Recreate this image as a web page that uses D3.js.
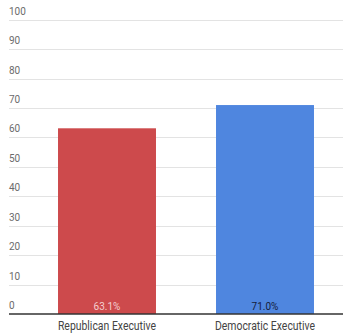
<!DOCTYPE html>
<html>
<head>
<meta charset="utf-8">
<script src="https://cdn.jsdelivr.net/npm/d3@7"></script>
<style>
  html, body { margin: 0; padding: 0; background: #fff; }
  svg { display: block; font-family: "Roboto", "Liberation Sans", sans-serif; }
</style>
</head>
<body>
<svg id="chart" width="343" height="335"></svg>
<script>
const categories = ["Republican Executive", "Democratic Executive"];
const values = [63.1, 71.0];
const valueLabels = ["63.1%", "71.0%"];
const barColors = ["#cd4a4c", "#4f86df"];
const labelColors = ["#f4cfcf", "#15203a"];
const tickValues = [0, 10, 20, 30, 40, 50, 60, 70, 80, 90, 100];

const svg = d3.select("#chart");
const W = 343;
const left = 9;
const narrow = 0.87; // horizontal squeeze for a condensed look

const y = d3.scaleLinear().domain([0, 100]).range([314, 19.7]);
const x = d3.scaleBand()
  .domain(categories)
  .range([28, 344])
  .paddingInner(0.38)
  .paddingOuter(0.19);

// horizontal grid with labels sitting above each line
const grid = svg.append("g");
grid.selectAll("line")
  .data(tickValues.filter(d => d > 0))
  .join("line")
  .attr("x1", left).attr("x2", W)
  .attr("y1", d => Math.round(y(d)) + 0.5)
  .attr("y2", d => Math.round(y(d)) + 0.5)
  .attr("stroke", "#e3e3e3")
  .attr("stroke-width", 1.2);

grid.selectAll("text")
  .data(tickValues)
  .join("text")
  .attr("transform", d => `translate(${left},${y(d) - 5}) scale(${narrow},1)`)
  .attr("font-size", 11.5)
  .attr("fill", "#6b6b6b")
  .text(d => d);

// bars
svg.append("g").selectAll("rect")
  .data(categories)
  .join("rect")
  .attr("x", d => x(d))
  .attr("width", x.bandwidth())
  .attr("y", (d, i) => y(values[i]))
  .attr("height", (d, i) => y(0) - y(values[i]))
  .attr("fill", (d, i) => barColors[i]);

// value labels at the foot of each bar
svg.append("g").selectAll("text")
  .data(categories)
  .join("text")
  .attr("transform", d => `translate(${x(d) + x.bandwidth() / 2},${y(0) - 4.5}) scale(${narrow},1)`)
  .attr("text-anchor", "middle")
  .attr("font-size", 11.5)
  .attr("fill", (d, i) => labelColors[i])
  .text((d, i) => valueLabels[i]);

// baseline
svg.append("line")
  .attr("x1", left).attr("x2", W)
  .attr("y1", y(0)).attr("y2", y(0))
  .attr("stroke", "#333")
  .attr("stroke-width", 1.6);

// category axis labels
svg.append("g").selectAll("text")
  .data(categories)
  .join("text")
  .attr("transform", d => `translate(${x(d) + x.bandwidth() / 2},330) scale(${narrow},1)`)
  .attr("text-anchor", "middle")
  .attr("font-size", 12)
  .attr("fill", "#444")
  .text(d => d);
</script>
</body>
</html>
